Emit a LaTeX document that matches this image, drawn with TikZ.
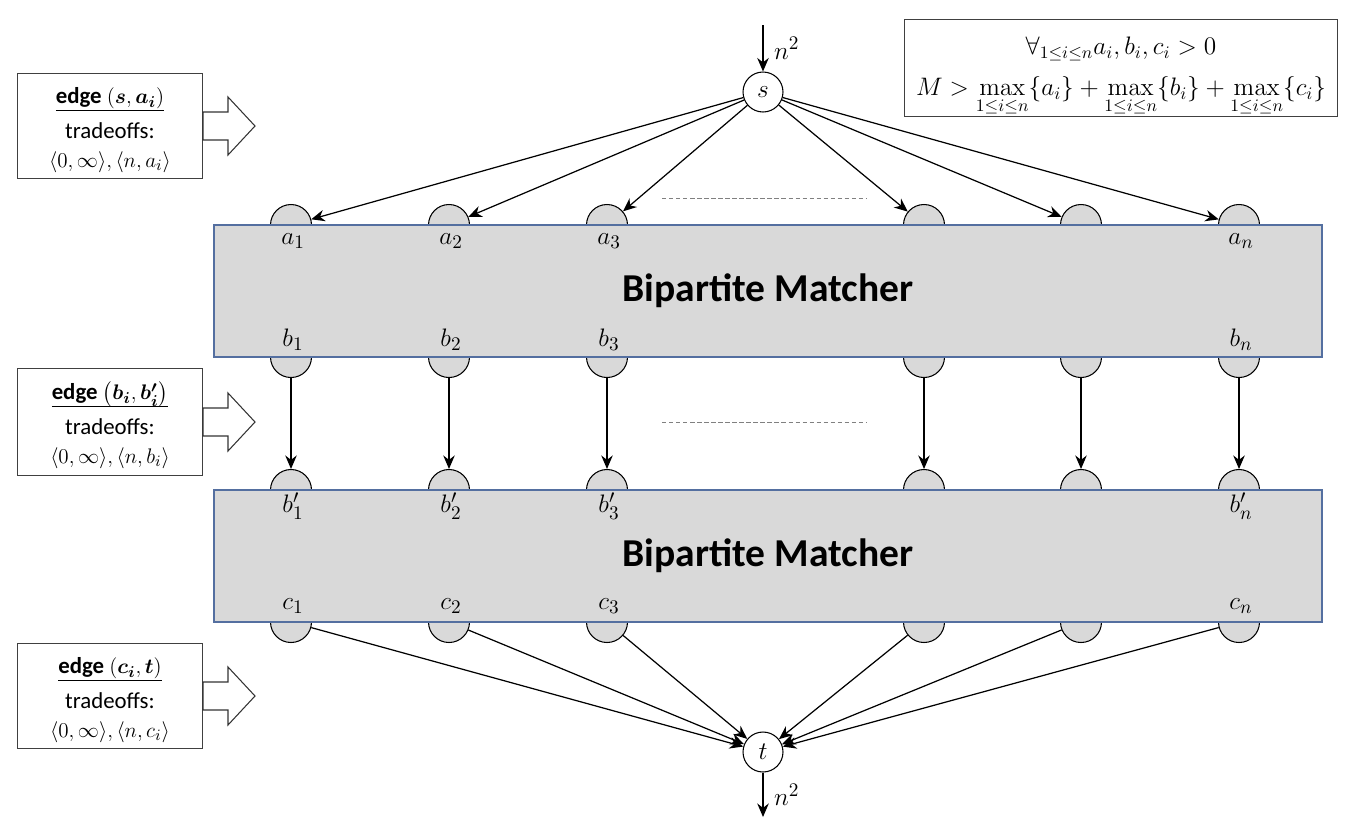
\documentclass[tikz,border=0pt]{standalone}
\usepackage{amsmath}
\usepackage[no-math]{fontspec}
\setmainfont{Carlito}
\usetikzlibrary{arrows.meta, positioning}

\definecolor{matchfill}{RGB}{217,217,217}
\definecolor{matchline}{RGB}{84,111,160}
\newcommand{\edgehead}[1]{\underline{\smash{\textbf{edge} #1}\rule[-2.2pt]{0pt}{0pt}}\rule{0pt}{17pt}}
\newcommand{\lastline}{\rule[-6.3pt]{0pt}{0pt}}

\begin{document}
\begin{tikzpicture}[
  x=0.02cm, y=-0.02cm,
  every node/.style={font=\fontsize{13}{16}\selectfont},
  port/.style={circle, draw, line width=0.6pt, fill=matchfill, minimum size=0.82cm, inner sep=0pt},
  term/.style={circle, draw, line width=0.6pt, fill=white, minimum size=0.8cm, inner sep=0pt, font=\fontsize{15}{16}\selectfont},
  matcher/.style={rectangle, draw=matchline, line width=0.9pt, fill=matchfill, minimum width=22.16cm, minimum height=2.64cm, font=\fontsize{22.5}{26}\selectfont\bfseries},
  note/.style={rectangle, draw=black!75, line width=0.6pt, align=center, minimum width=3.7cm, minimum height=2.06cm, inner sep=0pt, font=\fontsize{13}{15}\selectfont},
  lbl/.style={font=\fontsize{15}{16}\selectfont, inner sep=0pt},
  arr/.style={-{Stealth[length=2.7mm, width=2.3mm]}, line width=0.7pt},
  gap/.style={gray, line width=0.4pt, dash pattern=on 2.5pt off 1.5pt},
  blockarr/.style={draw=black!80, line width=0.6pt, fill=white}
]
\useasboundingbox (0,0) rectangle (1346,823);

% Ports
\foreach \i/\x in {1/291, 2/449, 3/607, 4/924, 5/1081, 6/1239} {
  \node[port] (a\i) at (\x,225) {};
  \node[port] (b\i) at (\x,357) {};
  \node[port] (bb\i) at (\x,490) {};
  \node[port] (c\i) at (\x,622) {};
}

% Matchers
\node[matcher] (m1) at (768,291) {Bipartite Matcher};
\node[matcher] (m2) at (768,556) {Bipartite Matcher};

% Port labels
\foreach \x/\s in {293/1, 451/2, 609/3, 1241/n} {
  \node[lbl] (la\s) at (\x,241) {$a_\s$};
  \node[lbl] (lb\s) at (\x,340) {$b_\s$};
  \node[lbl] (lbb\s) at (\x,506) {$b'_\s$};
  \node[lbl] (lc\s) at (\x,606) {$c_\s$};
}

% Source and sink
\node[term] (s) at (763,92) {$s$};
\node[term] (t) at (763,752) {$t$};
\coordinate (sin) at (763,25);
\coordinate (tout) at (763,817);

% Elided ports
\draw[gap] (662,198) -- (867,198);
\draw[gap] (662,422) -- (867,422);

% Edges
\draw[arr] (sin) -- node[right, lbl, xshift=6pt] {$n^2$} (s);
\draw[arr] (t) -- node[right, lbl, xshift=6pt] {$n^2$} (tout);
\foreach \i in {1,...,6} {
  \draw[arr] (s) -- (a\i);
  \draw[arr] (b\i) -- (bb\i);
  \draw[arr] (c\i) -- (t);
}

% Edge notes
\node[note] (eSA) at (110,126) {\edgehead{$(\boldsymbol{s},\boldsymbol{a_i})$}\\[4.5pt]tradeoffs:\\[1.5pt]$\langle 0,\infty\rangle,\langle n,a_i\rangle$\lastline};
\node[note, minimum height=2.14cm] (eBB) at (110,422) {\edgehead{$\bigl(\boldsymbol{b_i},\boldsymbol{b'_i}\bigr)$}\\[4.5pt]tradeoffs:\\[1.5pt]$\langle 0,\infty\rangle,\langle n,b_i\rangle$\lastline};
\node[note] (eCT) at (110,696) {\edgehead{$(\boldsymbol{c_i},\boldsymbol{t})$}\\[4.5pt]tradeoffs:\\[1.5pt]$\langle 0,\infty\rangle,\langle n,c_i\rangle$\lastline};
\foreach \b in {eSA, eBB, eCT}
  \draw[blockarr] (\b.east) ++(0,-14) -- ++(25,0) -- ++(0,-15) -- ++(27,29) -- ++(-27,29) -- ++(0,-15) -- ++(-25,0) -- cycle;

% Constraints
\node[note, minimum width=8.66cm, minimum height=1.92cm, font=\fontsize{14.5}{17}\selectfont] (cond) at (1121,68)
  {\rule{0pt}{20pt}$\forall_{1\le i\le n} a_i, b_i, c_i > 0$\\[6.3pt]
   $M > \displaystyle\max_{1\le i\le n}\{a_i\} + \max_{1\le i\le n}\{b_i\} + \max_{1\le i\le n}\{c_i\}$\rule[-9.7pt]{0pt}{0pt}};

\end{tikzpicture}
\end{document}
